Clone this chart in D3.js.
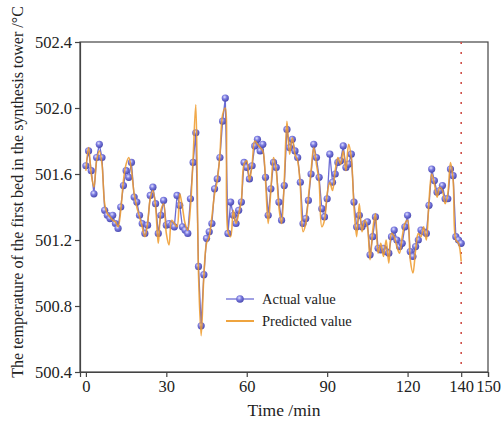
<!DOCTYPE html>
<html>
<head>
<meta charset="utf-8">
<script src="https://cdn.jsdelivr.net/npm/d3@7"></script>
<style>
  body { margin: 0; background: #fff; }
  text { font-family: "Liberation Serif", "Times New Roman", serif; fill: #222; }
</style>
</head>
<body>
<div id="chart"></div>
<script>
// minutes 0..140, one reading per minute
var actual = [
  501.65, 501.74, 501.62, 501.48, 501.70, 501.78, 501.70, 501.38, 501.35, 501.33,
  501.35, 501.30, 501.27, 501.40, 501.53, 501.62, 501.58, 501.67, 501.46, 501.43,
  501.35, 501.30, 501.24, 501.29, 501.47, 501.52, 501.42, 501.24, 501.35, 501.44,
  501.29, 501.30, 501.29, 501.28, 501.47, 501.41, 501.28, 501.26, 501.24, 501.45,
  501.67, 501.85, 501.04, 500.68, 500.99, 501.21, 501.25, 501.30, 501.51, 501.57,
  501.70, 501.92, 502.06, 501.24, 501.43, 501.35, 501.30, 501.38, 501.43, 501.67,
  501.64, 501.57, 501.65, 501.77, 501.81, 501.74, 501.78, 501.58, 501.35, 501.51,
  501.67, 501.64, 501.43, 501.32, 501.53, 501.87, 501.76, 501.81, 501.74, 501.70,
  501.55, 501.30, 501.33, 501.44, 501.60, 501.78, 501.70, 501.58, 501.39, 501.34,
  501.45, 501.72, 501.55, 501.60, 501.67, 501.68, 501.77, 501.64, 501.66, 501.72,
  501.43, 501.28, 501.35, 501.28, 501.30, 501.31, 501.11, 501.22, 501.34, 501.15,
  501.14, 501.15, 501.13, 501.12, 501.22, 501.26, 501.20, 501.16, 501.18, 501.28,
  501.35, 501.13, 501.10, 501.16, 501.20, 501.26, 501.25, 501.24, 501.41, 501.63,
  501.56, 501.49, 501.50, 501.53, 501.45, 501.45, 501.63, 501.59, 501.22, 501.20,
  501.18
];
var predicted = [
  501.62, 501.76, 501.60, 501.52, 501.68, 501.74, 501.66, 501.42, 501.36, 501.34,
  501.32, 501.31, 501.28, 501.38, 501.56, 501.66, 501.70, 501.62, 501.48, 501.40,
  501.34, 501.28, 501.22, 501.30, 501.45, 501.50, 501.40, 501.18, 501.38, 501.42,
  501.24, 501.17, 501.32, 501.30, 501.28, 501.48, 501.40, 501.30, 501.26, 501.40,
  501.70, 502.02, 501.00, 500.62, 500.98, 501.18, 501.22, 501.34, 501.48, 501.56,
  501.72, 501.96, 502.00, 501.25, 501.22, 501.38, 501.30, 501.36, 501.44, 501.66,
  501.68, 501.56, 501.66, 501.80, 501.78, 501.76, 501.74, 501.56, 501.30, 501.50,
  501.70, 501.62, 501.40, 501.30, 501.56, 501.92, 501.72, 501.82, 501.72, 501.68,
  501.52, 501.25, 501.30, 501.46, 501.62, 501.76, 501.66, 501.55, 501.28, 501.32,
  501.48, 501.55, 501.50, 501.62, 501.70, 501.66, 501.74, 501.62, 501.78, 501.70,
  501.40, 501.22, 501.42, 501.25, 501.32, 501.28, 501.08, 501.26, 501.36, 501.12,
  501.18, 501.10, 501.20, 501.06, 501.24, 501.22, 501.16, 501.12, 501.22, 501.30,
  501.32, 501.08, 501.00, 501.14, 501.24, 501.22, 501.28, 501.20, 501.44, 501.60,
  501.54, 501.46, 501.52, 501.50, 501.42, 501.48, 501.67, 501.56, 501.20, 501.18,
  501.07
];
var xTicks = [0, 30, 60, 90, 120, 140, 150];
var yTicks = [500.4, 500.8, 501.2, 501.6, 502.0, 502.4];
var splitAt = 140;

var width = 502, height = 423,
    margin = { top: 42, right: 14, bottom: 51, left: 80 };

var svg = d3.select('#chart')
    .append('svg')
    .attr('width', width)
    .attr('height', height);

var x = d3.scaleLinear().domain([-2.2, 150]).range([margin.left, width - margin.right]);
var y = d3.scaleLinear().domain([500.4, 502.4]).range([height - margin.bottom, margin.top]);

// sphere-like markers
var grad = svg.append('defs').append('radialGradient')
    .attr('id', 'ball').attr('cx', '40%').attr('cy', '35%').attr('r', '65%');
grad.append('stop').attr('offset', '0%').attr('stop-color', '#e4e4ff');
grad.append('stop').attr('offset', '45%').attr('stop-color', '#7b7be0');
grad.append('stop').attr('offset', '100%').attr('stop-color', '#4a4ab0');

// frame
svg.append('rect')
    .attr('x', x.range()[0]).attr('y', y.range()[1])
    .attr('width', x.range()[1] - x.range()[0])
    .attr('height', y.range()[0] - y.range()[1])
    .attr('fill', 'none').attr('stroke', '#444').attr('stroke-width', 1.2);

var xAxis = svg.append('g')
    .attr('transform', 'translate(0,' + y.range()[0] + ')')
    .call(d3.axisBottom(x).tickValues(xTicks).tickSize(5).tickPadding(3));
var yAxis = svg.append('g')
    .attr('transform', 'translate(' + x.range()[0] + ',0)')
    .call(d3.axisLeft(y).tickValues(yTicks).tickFormat(d3.format('.1f')).tickSize(5).tickPadding(3));

[xAxis, yAxis].forEach(function(g){
    g.select('.domain').attr('stroke', '#444').attr('stroke-width', 1.2);
    g.selectAll('.tick line').attr('stroke', '#444').attr('stroke-width', 1.2);
    g.selectAll('.tick text')
        .style('font-family', '"Liberation Serif", "Times New Roman", serif')
        .style('font-size', '16.5px').attr('fill', '#222');
});

// dotted divider
svg.append('line')
    .attr('x1', x(splitAt)).attr('x2', x(splitAt))
    .attr('y1', y.range()[1]).attr('y2', y.range()[0])
    .attr('stroke', '#d0504a').attr('stroke-width', 1.6)
    .attr('stroke-dasharray', '2,8');

var pts = actual.map(function(v, i){ return [i, v]; });
var pred = predicted.map(function(v, i){ return [i, v]; });

svg.append('path')
    .datum(pts)
    .attr('fill', 'none')
    .attr('stroke', '#6c6cd4')
    .attr('stroke-width', 1.3)
    .attr('d', d3.line().x(function(d){ return x(d[0]); }).y(function(d){ return y(d[1]); }));

svg.append('g').selectAll('circle')
    .data(pts)
    .enter()
    .append('circle')
    .attr('cx', function(d){ return x(d[0]); })
    .attr('cy', function(d){ return y(d[1]); })
    .attr('r', 3.6)
    .attr('fill', 'url(#ball)');

svg.append('path')
    .datum(pred)
    .attr('fill', 'none')
    .attr('stroke', '#ee9a2a')
    .attr('stroke-opacity', 0.85)
    .attr('stroke-width', 1.6)
    .attr('d', d3.line().curve(d3.curveCatmullRom.alpha(0.5))
        .x(function(d){ return x(d[0]); }).y(function(d){ return y(d[1]); }));

// legend
var lg = svg.append('g').attr('transform', 'translate(226,299)');
lg.append('line').attr('x1', 0).attr('x2', 28).attr('y1', 0).attr('y2', 0)
    .attr('stroke', '#6c6cd4').attr('stroke-width', 1.3);
lg.append('circle').attr('cx', 14).attr('cy', 0).attr('r', 3.8).attr('fill', 'url(#ball)');
lg.append('text').attr('x', 36).attr('y', 5).style('font-size', '14.5px').text('Actual value');
lg.append('line').attr('x1', 0).attr('x2', 28).attr('y1', 22).attr('y2', 22)
    .attr('stroke', '#ee9a2a').attr('stroke-width', 1.8);
lg.append('text').attr('x', 36).attr('y', 27).style('font-size', '14.5px').text('Predicted value');

// axis titles
svg.append('text')
    .attr('x', (x.range()[0] + x.range()[1]) / 2).attr('y', 416)
    .attr('text-anchor', 'middle').style('font-size', '17.5px')
    .text('Time /min');
svg.append('text')
    .attr('transform', 'translate(23,' + 192 + ') rotate(-90)')
    .attr('text-anchor', 'middle').style('font-size', '16px')
    .text('The temperature of the first bed in the synthesis tower /°C');
</script>
</body>
</html>
